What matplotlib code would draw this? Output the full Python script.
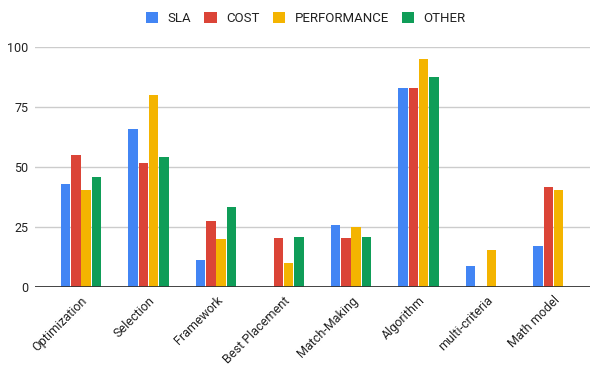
import numpy as np
import matplotlib.pyplot as plt

plt.rcParams['font.family'] = ['Roboto', 'DejaVu Sans']

# categories and series
categories = ['Optimization', 'Selection', 'Framework', 'Best Placement',
              'Match-Making', 'Algorithm', 'multi-criteria', 'Math model']
sla = [43, 65.7, 11.2, 0, 25.7, 82.8, 8.6, 17]
cost = [55, 51.5, 27.5, 20.4, 20.4, 82.8, 0, 41.7]
performance = [40.3, 80, 20, 10, 25, 95, 15.3, 40.3]
other = [46, 54.2, 33.2, 20.8, 20.8, 87.5, 0, 0]

series = {'SLA': sla, 'COST': cost, 'PERFORMANCE': performance, 'OTHER': other}
colors = ['#4285F4', '#DB4437', '#F4B400', '#0F9D58']

fig = plt.figure(figsize=(5.96, 3.65), dpi=100)
ax = fig.add_axes([35 / 596, 78 / 365, 555 / 596, 240 / 365])

x = np.arange(len(categories))
slot = 0.152
width = 0.138
for i, (name, vals) in enumerate(series.items()):
    offs = (i - 1.5) * slot
    ax.bar(x + offs, vals, width=width, color=colors[i], label=name, zorder=3)

ax.set_xlim(-0.681, 7.54)
ax.set_ylim(0, 100)
ax.set_yticks([0, 25, 50, 75, 100])
ax.grid(axis='y', color='#cccccc', linewidth=1, zorder=0)
ax.axhline(0, color='#333333', linewidth=2, zorder=4)
for s in ax.spines.values():
    s.set_visible(False)
ax.tick_params(axis='both', length=0, labelsize=9, colors='#222222')
ax.tick_params(axis='y', pad=5)
ax.set_xticks(x)
ax.set_xticklabels(categories, rotation=45, ha='right', va='top',
                   rotation_mode='anchor')
ax.tick_params(axis='x', pad=5)

handles, labels = ax.get_legend_handles_labels()
fig.legend(handles, labels, loc='upper center', bbox_to_anchor=(0.513, 1.0),
           ncol=4, frameon=False, fontsize=9.5, handlelength=0.95,
           handleheight=0.95, handletextpad=0.7, columnspacing=1.0,
           labelcolor='#222222')

fig.savefig('out.png', dpi=100)
